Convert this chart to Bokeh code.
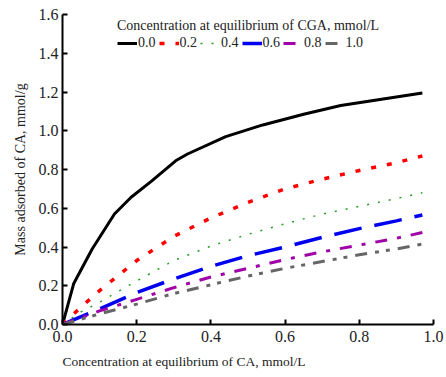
from bokeh.plotting import figure
from bokeh.models import Legend, LegendItem, Title, FixedTicker
from bokeh.embed import file_html
from bokeh.resources import INLINE

# Data
cga_levels = ["0.0", "0.2", "0.4", "0.6", "0.8", "1.0"]

x_00 = [0, 0.03, 0.08, 0.14, 0.185, 0.24, 0.305, 0.337, 0.44, 0.54, 0.65, 0.75, 0.97]
y_00 = [0, 0.21, 0.39, 0.57, 0.657, 0.74, 0.845, 0.88, 0.97, 1.03, 1.085, 1.13, 1.195]

x_02 = [0, 0.05, 0.10, 0.20, 0.30, 0.40, 0.50, 0.60, 0.70, 0.80, 0.90, 0.97]
y_02 = [0, 0.09, 0.175, 0.33, 0.455, 0.55, 0.63, 0.70, 0.75, 0.795, 0.835, 0.87]

x_04 = [0, 0.05, 0.10, 0.20, 0.30, 0.40, 0.50, 0.60, 0.70, 0.80, 0.90, 0.97]
y_04 = [0, 0.065, 0.115, 0.225, 0.33, 0.405, 0.465, 0.52, 0.57, 0.61, 0.65, 0.68]

x_06 = [0, 0.10, 0.20, 0.30, 0.40, 0.50, 0.60, 0.70, 0.80, 0.90, 0.97]
y_06 = [0, 0.08, 0.165, 0.235, 0.30, 0.355, 0.40, 0.45, 0.495, 0.535, 0.565]

x_08 = [0, 0.10, 0.20, 0.30, 0.40, 0.50, 0.60, 0.70, 0.80, 0.90, 0.97]
y_08 = [0, 0.07, 0.13, 0.19, 0.245, 0.29, 0.335, 0.375, 0.41, 0.445, 0.475]

x_10 = [0, 0.10, 0.20, 0.30, 0.40, 0.50, 0.60, 0.70, 0.80, 0.90, 0.97]
y_10 = [0, 0.055, 0.105, 0.16, 0.205, 0.25, 0.29, 0.325, 0.36, 0.39, 0.415]

x_ticks = [0.0, 0.2, 0.4, 0.6, 0.8, 1.0]
y_ticks = [0.0, 0.2, 0.4, 0.6, 0.8, 1.0, 1.2, 1.4, 1.6]

FONT = "Liberation Serif"

p = figure(width=446, height=377, x_range=(0, 1), y_range=(0, 1.6),
           output_backend="svg", toolbar_location=None,
           min_border_left=62, min_border_right=13, min_border_top=14,
           min_border_bottom=53)
p.outline_line_color = None
p.grid.visible = False
p.background_fill_color = "white"
p.border_fill_color = "white"

series = [
    (x_00, y_00, "black", 3, "solid"),
    (x_02, y_02, "#ff0000", 3.5, "5 11"),
    (x_04, y_04, "#22a022", 1.5, "2 9"),
    (x_06, y_06, "#0000ee", 3.5, "28 13"),
    (x_08, y_08, "#a000a8", 3, "12 10 4 10"),
    (x_10, y_10, "#666666", 3, "12 8 4 7 4 8"),
]

items = []
for (xs, ys, c, w, d), lab in zip(series, cga_levels):
    r = p.line(xs, ys, line_color=c, line_width=w, line_dash=d)
    items.append(LegendItem(label=lab, renderers=[r]))

for ax in (p.xaxis[0], p.yaxis[0]):
    ax.axis_line_width = 2
    ax.axis_line_color = "black"
    ax.major_tick_in = 5
    ax.major_tick_out = 0
    ax.major_tick_line_width = 2
    ax.minor_tick_line_color = None
    ax.major_label_text_font = FONT
    ax.major_label_text_font_size = "16px"
    ax.major_label_text_color = "#222222"

p.xaxis.ticker = FixedTicker(ticks=x_ticks)
p.yaxis.ticker = FixedTicker(ticks=y_ticks)
p.xaxis.major_label_overrides = {t: f"{t:.1f}" for t in x_ticks}
p.yaxis.major_label_overrides = {t: f"{t:.1f}" for t in y_ticks}
p.xaxis.major_label_standoff = 6
p.yaxis.major_label_standoff = 4

p.yaxis.axis_label = "Mass adsorbed of CA, mmol/g"
p.yaxis.axis_label_text_font = FONT
p.yaxis.axis_label_text_font_size = "14px"
p.yaxis.axis_label_text_font_style = "normal"
p.yaxis.axis_label_text_color = "#222222"
p.yaxis.axis_label_standoff = 8

xt = Title(text="Concentration at equilibrium of CA, mmol/L", align="left",
           text_font=FONT, text_font_size="13.5px", text_font_style="normal",
           text_color="#222222", offset=0, standoff=15)
p.add_layout(xt, "below")

legend = Legend(items=items, orientation="horizontal", location=(55, 273),
                title="Concentration at equilibrium of CGA, mmol/L",
                title_text_font=FONT, title_text_font_size="14px",
                title_text_font_style="normal", title_text_color="#222222",
                title_standoff=1,
                label_text_font=FONT, label_text_font_size="14px",
                label_text_color="#222222",
                glyph_width=20, glyph_height=12, label_width=17,
                label_standoff=1, spacing=3, padding=0, margin=0,
                border_line_color=None, background_fill_alpha=0)
p.add_layout(legend, "center")

open("out.html", "w").write(file_html(p, INLINE))
